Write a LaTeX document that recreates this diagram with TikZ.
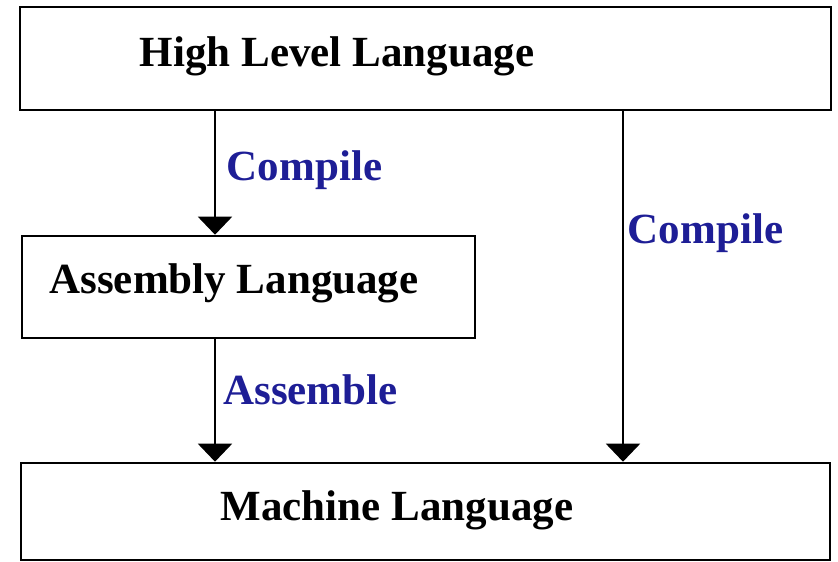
\documentclass[tikz,border=0pt]{standalone}
\usepackage{fontspec}
\setmainfont{Liberation Serif}
\usetikzlibrary{arrows.meta}
\definecolor{lblblue}{RGB}{30,30,150}
\begin{document}
\begin{tikzpicture}[x=1pt,y=-1pt,
  box/.style={draw=black,line width=2.6pt,fill=white,rectangle,inner sep=0pt},
  boxtext/.style={font=\fontsize{43}{50}\selectfont\bfseries,text=black,inner sep=0pt},
  lbl/.style={font=\fontsize{43}{50}\selectfont\bfseries,text=lblblue,inner sep=0pt},
  arr/.style={draw=black,line width=2pt,-{Triangle[width=34pt,length=18pt]}}]
\useasboundingbox (0,0) rectangle (838,562);
% boxes
\node[box,minimum width=811pt,minimum height=103pt] (hll) at (425.5,58.5) {};
\node[box,minimum width=453pt,minimum height=102pt] (asm) at (248.5,287) {};
\node[box,minimum width=809pt,minimum height=97pt] (mach) at (425.5,511.5) {};
% box texts
\node[boxtext] (hllt) at (337,56) {High Level Language};
\node[boxtext] (asmt) at (234,283) {Assembly Language};
\node[boxtext] (macht) at (397,510) {Machine Language};
% arrow columns
\coordinate (lx) at (215,0);
\coordinate (rx) at (623,0);
\draw[arr] (hll.south -| lx) -- (asm.north -| lx);
\draw[arr] (asm.south -| lx) -- (mach.north -| lx);
\draw[arr] (hll.south -| rx) -- (mach.north -| rx);
% labels
\node[lbl] (c1) at (304.5,170) {Compile};
\node[lbl] (c2) at (705.5,233) {Compile};
\node[lbl] (a1) at (310.5,390) {Assemble};
\end{tikzpicture}
\end{document}
